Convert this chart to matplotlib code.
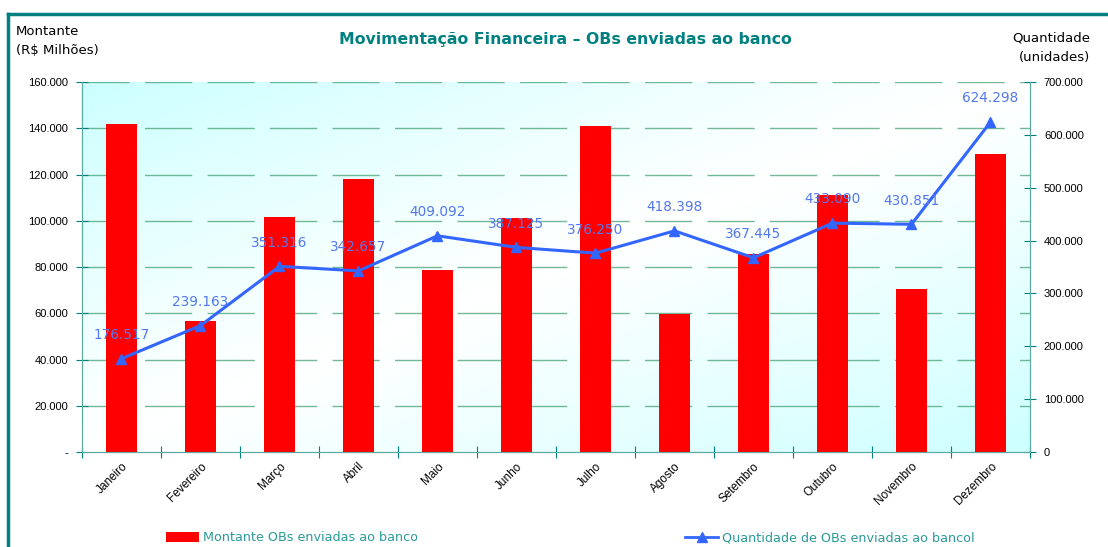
import numpy as np
import matplotlib.pyplot as plt
from matplotlib.lines import Line2D
from matplotlib.patches import Patch
from matplotlib.ticker import FuncFormatter

meses = ["Janeiro", "Fevereiro", "Março", "Abril", "Maio", "Junho",
         "Julho", "Agosto", "Setembro", "Outubro", "Novembro", "Dezembro"]
montante = [142000, 56600, 101600, 118000, 78700, 101200,
            141000, 59700, 85600, 111000, 70500, 128900]
quantidade = [176517, 239163, 351316, 342657, 409092, 387125,
              376250, 418398, 367445, 433090, 430851, 624298]

TEAL = "#008080"
BLUE = "#3366ff"
LABEL_BLUE = "#5577ee"
GRID = "#3a9a6a"


def fmt_milhar(v, pos=None):
    if v == 0:
        return "-"
    return f"{int(round(v)):,}".replace(",", ".")


def fmt_milhar0(v, pos=None):
    return f"{int(round(v)):,}".replace(",", ".")


fig = plt.figure(figsize=(11.08, 5.47), dpi=100)
ax = fig.add_axes([0.074, 0.1737, 0.8556, 0.6763])
x = np.arange(len(meses))

# fundo em degrade (ciano nos cantos sup-esq / inf-dir, branco no meio)
gx, gy = np.meshgrid(np.linspace(0, 1, 200), np.linspace(0, 1, 200))
d = (gx + gy) / 2.0
t = np.abs(d - 0.5) * 2
t = np.clip(t, 0, 1) ** 1.1
c0 = np.array([1.0, 1.0, 1.0])
c1 = np.array([0.80, 1.0, 1.0])
img = c0[None, None, :] * (1 - t[..., None]) + c1[None, None, :] * t[..., None]
ax.imshow(img, extent=[0, 1, 0, 1], transform=ax.transAxes, aspect="auto",
          zorder=0, origin="upper")

ax.bar(x, montante, width=0.4, color="#ff0000", zorder=3)
ax.set_xlim(-0.5, 11.5)
ax.set_ylim(0, 160000)
ax.set_yticks(np.arange(0, 160001, 20000))
ax.yaxis.set_major_formatter(FuncFormatter(fmt_milhar))
for yv in np.arange(20000, 160001, 20000):
    ax.axhline(yv, color=GRID, lw=1.0, dashes=(34, 11), zorder=1, alpha=0.7)

ax.set_xticks(np.arange(-0.5, 12, 1), minor=False)
ax.set_xticks(x, minor=True)
ax.set_xticklabels([""] * 13)
ax.set_xticklabels(meses, minor=True, rotation=45, ha="right",
                   rotation_mode="anchor", fontsize=8.5, family="Liberation Sans")
ax.tick_params(axis="x", which="minor", length=0, pad=6)
ax.tick_params(axis="x", which="major", direction="inout", length=8,
               color=TEAL)
ax.tick_params(axis="y", direction="inout", length=8, color=TEAL,
               labelsize=8, pad=6)
for lab in ax.get_yticklabels():
    lab.set_family("Liberation Sans")

for s in ax.spines.values():
    s.set_color("#5aaaa0")
ax.spines["top"].set_visible(False)

ax2 = ax.twinx()
ax2.plot(x, quantidade, color=BLUE, lw=2.2, marker="^", markersize=7, zorder=5)
ax2.set_ylim(0, 700000)
ax2.set_yticks(np.arange(0, 700001, 100000))
ax2.yaxis.set_major_formatter(FuncFormatter(fmt_milhar0))
ax2.tick_params(axis="y", direction="inout", length=8, color=TEAL,
                labelsize=8, pad=6)
for lab in ax2.get_yticklabels():
    lab.set_family("Liberation Sans")
for s in ax2.spines.values():
    s.set_color("#5aaaa0")
ax2.spines["top"].set_visible(False)

for xi, q in zip(x, quantidade):
    ax2.annotate(fmt_milhar0(q), (xi, q), xytext=(0, 17),
                 textcoords="offset points", ha="center", va="center",
                 color=LABEL_BLUE, fontsize=9.8, zorder=6)

fig.text(0.51, 0.927, "Movimentação Financeira – OBs enviadas ao banco",
         ha="center", va="center", color=TEAL, fontsize=11.3, weight="bold")
fig.text(0.014, 0.925, "Montante\n(R$ Milhões)", ha="left", va="center",
         fontsize=9.5, linespacing=1.65)
fig.text(0.984, 0.913, "Quantidade\n(unidades)", ha="right", va="center",
         fontsize=9.5, linespacing=1.65, multialignment="right")

# moldura externa
fig.add_artist(Line2D([0.0075, 1.0], [1 - 14 / 547, 1 - 14 / 547],
                      color=TEAL, lw=2.5, transform=fig.transFigure))
fig.add_artist(Line2D([0.0075, 0.0075], [1 - 14 / 547, 0.0],
                      color=TEAL, lw=2.5, transform=fig.transFigure))

h1 = Patch(facecolor="#ff0000")
h2 = Line2D([0], [0], color=BLUE, lw=2, marker="^", markersize=7)
fig.legend([h1], ["Montante OBs enviadas ao banco"], loc="center left",
           bbox_to_anchor=(0.139, 0.017), frameon=False, fontsize=9.2,
           labelcolor="#2a9a9a", handlelength=2.6, handleheight=0.8,
           handletextpad=0.3)
fig.legend([h2], ["Quantidade de OBs enviadas ao bancol"], loc="center left",
           bbox_to_anchor=(0.608, 0.017), frameon=False, fontsize=9.2,
           labelcolor="#2a9a9a", handlelength=2.6, handletextpad=0.3)

fig.savefig("out.png", dpi=100)
